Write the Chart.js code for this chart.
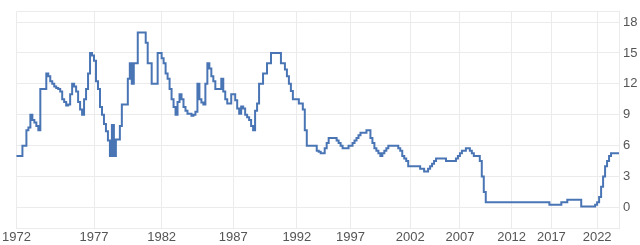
<!DOCTYPE html>
<html lang="en">
<head>
    <meta charset="UTF-8">
    <title>Interest Rate</title>
    <script src="https://cdn.jsdelivr.net/npm/chart.js"></script>
    <style>
        html, body { margin: 0; padding: 0; background: #fff; }
        #wrap { width: 640px; height: 245px; }
    </style>
</head>
<body>
    <div id="wrap"><canvas id="rateChart"></canvas></div>
    <script>
        // tick years, each one opens a block of observations
        const periodYears = ['1972', '1977', '1982', '1987', '1992', '1997', '2002', '2007', '2012', '2017', '2022'];

        const rates1972 = [5, 5, 5, 5, 6, 6, 7.5, 7.75, 9, 8.5, 8.25, 7.9, 7.5, 11.5, 11.5, 11.5, 13, 12.75, 12.25, 12,
            11.75, 11.6, 11.5, 11.25, 10.5, 10.25, 9.9, 10, 11, 12, 11.75, 11.25, 10.25, 9.5, 9, 10.5, 11.5, 13, 15];
        const rates1977 = [14.75, 14.25, 12.25, 11.5, 9.75, 9, 8.1, 7.4, 6.5, 5, 8, 5, 6.6, 6.6, 7.9, 10, 10, 10, 12.5, 14,
            12, 14, 14, 17, 17, 17, 17, 16, 14, 14, 12, 12, 12, 15];
        const rates1982 = [15, 14.5, 14, 13, 12.5, 11.5, 10.5, 9.75, 9, 10.25, 11, 10.5, 9.75, 9.4, 9.1, 9.1, 8.9, 9, 9.3, 12,
            10.5, 10.2, 10, 12, 14, 13.5, 12.75, 12.25, 11.5, 11.5, 11.5, 12.5, 11.25, 10.5, 10.1, 10.1];
        const rates1987 = [11, 11, 10.4, 9.6, 9.1, 9.8, 9.6, 9, 8.75, 8.5, 7.9, 7.5, 9.4, 10.1, 12, 12, 13, 13, 14, 14,
            15, 15, 15, 15, 15, 14, 14, 13.4, 12.75, 12, 11.3, 10.5];
        const rates1992 = [10.5, 10.5, 10.1, 10.1, 9.5, 7.5, 6, 6, 6, 6, 6, 5.5, 5.4, 5.25, 5.25, 5.75, 6.25, 6.75, 6.75, 6.75,
            6.75, 6.5, 6.25, 6, 5.75, 5.75, 5.75];
        const rates1997 = [6, 6, 6.25, 6.5, 6.75, 7, 7.25, 7.25, 7.25, 7.5, 7.5, 6.75, 6.25, 5.75, 5.5, 5.25, 5, 5.25, 5.5, 5.75,
            6, 6, 6, 6, 6, 5.75, 5.5, 5, 4.75, 4.5];
        const rates2002 = [4, 4, 4, 4, 4, 4, 3.75, 3.75, 3.5, 3.5, 3.75, 4, 4.25, 4.5, 4.75, 4.75, 4.75, 4.75, 4.75, 4.5,
            4.5, 4.5, 4.5, 4.5, 4.75];
        const rates2007 = [5, 5.25, 5.5, 5.5, 5.75, 5.75, 5.5, 5.25, 5, 5, 5, 4.5, 3, 1.5, 0.5, 0.5, 0.5, 0.5, 0.5, 0.5,
            0.5, 0.5, 0.5, 0.5, 0.5, 0.5];
        const rates2012 = [0.5, 0.5, 0.5, 0.5, 0.5, 0.5, 0.5, 0.5, 0.5, 0.5, 0.5, 0.5, 0.5, 0.5, 0.5, 0.5, 0.5, 0.5, 0.5, 0.5];
        const rates2017 = [0.25, 0.25, 0.25, 0.25, 0.25, 0.25, 0.5, 0.5, 0.5, 0.75, 0.75, 0.75, 0.75, 0.75, 0.75, 0.75,
            0.1, 0.1, 0.1, 0.1, 0.1, 0.1, 0.1];
        const rates2022 = [0.25, 0.5, 1, 2, 3, 4, 4.5, 5, 5.25, 5.25, 5.25, 5.25];

        const yTicks = [0, 3, 6, 9, 12, 15, 18];

        const periods = [rates1972, rates1977, rates1982, rates1987, rates1992, rates1997,
            rates2002, rates2007, rates2012, rates2017, rates2022];

        const labels = [];
        const values = [];
        periods.forEach((block, p) => {
            block.forEach((v, k) => {
                labels.push(k === 0 ? periodYears[p] : '');
                values.push(v);
            });
        });

        const gridColor = '#ebebeb';
        const textColor = '#555';
        const font = { family: "'Liberation Sans', Arial, sans-serif", size: 13 };

        new Chart(document.getElementById('rateChart'), {
            type: 'line',
            data: {
                labels: labels,
                datasets: [{
                    data: values,
                    borderColor: '#4a75b5',
                    borderWidth: 2,
                    pointRadius: 0,
                    stepped: 'after',
                    fill: false
                }]
            },
            options: {
                responsive: true,
                maintainAspectRatio: false,
                animation: false,
                layout: { padding: { left: 15, top: 5, right: 0, bottom: 0 } },
                plugins: { legend: { display: false }, tooltip: { enabled: false } },
                scales: {
                    x: {
                        type: 'category',
                        offset: false,
                        grid: { color: gridColor, drawTicks: false },
                        border: { color: gridColor },
                        afterBuildTicks: function(scale) {
                            scale.ticks = scale.ticks.filter(t => labels[t.value] !== '');
                        },
                        afterFit: function(scale) { scale.height = 17; },
                        ticks: {
                            autoSkip: false,
                            maxRotation: 0,
                            padding: 2,
                            color: textColor,
                            font: font
                        }
                    },
                    y: {
                        position: 'right',
                        min: -2,
                        max: 19,
                        grid: { color: gridColor, drawTicks: false },
                        border: { color: gridColor },
                        afterBuildTicks: function(scale) {
                            scale.ticks = yTicks.concat([19]).map(v => ({ value: v }));
                        },
                        afterFit: function(scale) { scale.width = 21; },
                        ticks: {
                            padding: 4,
                            color: textColor,
                            font: font,
                            callback: function(v) { return v === 19 ? '' : v; }
                        }
                    }
                }
            }
        });
    </script>
</body>
</html>
